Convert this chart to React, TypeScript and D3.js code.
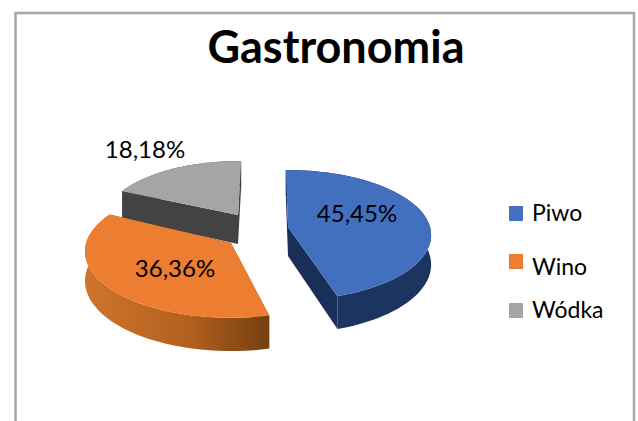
import React from "react";
import * as d3 from "d3";

const categories = ["Piwo", "Wino", "Wódka"];
const values = [5, 4, 2];
const labels = ["45,45%", "36,36%", "18,18%"];
const topColors = ["#4270bf", "#ed7d31", "#a5a5a5"];
const wallColors = ["#1c3460", "url(#orangeWall)", "#434343"];
const cutColors = ["#1a2f58", "#8a4a18", "#434343"];
const apexes: [number, number][] = [[288, 227], [231, 243], [238, 215]];
const radii = [1, 1.02, 0.94];
const startNudge = [-1, 3, 0];
const endNudge = [-1.5, 3, 1.5];
const labelPos: [number, number][] = [[357, 222], [175, 277], [145, 158]];
const legendY = [206, 254, 303];
const legendBase = [221, 275, 318];
const order = [2, 0, 1];

const RX = 142, RY = 64, K = 0.125, DEPTH = 29;
const FONT = "Lato, Carlito, sans-serif";
const rad = (deg: number) => (deg * Math.PI) / 180;

function project(apex: [number, number], a: number, r: number): [number, number] {
  const u = r * Math.sin(a), v = r * Math.cos(a);
  const w = 1 + K * v;
  return [apex[0] + (RX * u) / w, apex[1] - (RY * v) / w];
}
function depthAt(a: number, r: number) {
  return DEPTH / (1 + K * r * Math.cos(a));
}
const toPath = (pts: [number, number][]) => d3.line()(pts) + "Z";

export default function App() {
  const arcs = d3.pie<number>().sort(null)(values);
  return (
    <svg width={638} height={421} style={{ position: "absolute", left: 0, top: 0, background: "#fff" }}>
      <defs>
        <linearGradient id="orangeWall" gradientUnits="userSpaceOnUse" x1={86} x2={272} y1={0} y2={0}>
          <stop offset="0" stopColor="#d0742c" />
          <stop offset="0.55" stopColor="#b2601f" />
          <stop offset="1" stopColor="#733e11" />
        </linearGradient>
      </defs>
      <path d="M15.5,421V13H634V421" fill="none" stroke="#a6a6a6" strokeWidth={2.5} />
      <text x={336} y={63} textAnchor="middle" fontFamily={FONT} fontWeight={700} fontSize={45} fill="#000">Gastronomia</text>
      {order.map((i) => {
        const d = arcs[i];
        const apex = apexes[i];
        const a0 = d.startAngle + rad(startNudge[i]);
        const a1 = d.endAngle + rad(endNudge[i]);
        const r = radii[i];
        const angles = d3.range(0, 61).map((t) => a0 + ((a1 - a0) * t) / 60);
        const rim = angles.map((a) => project(apex, a, r));
        const down = (p: [number, number], a: number, q: number): [number, number] => [p[0], p[1] + depthAt(a, q)];
        const cut1: [number, number][] = [apex, rim[0], down(rim[0], angles[0], r), down(apex, 0, 0)];
        const cut2: [number, number][] = [apex, rim[60], down(rim[60], angles[60], r), down(apex, 0, 0)];
        const wall: [number, number][] = [...rim, ...rim.map((p, j) => down(p, angles[j], r)).reverse()];
        return (
          <g key={categories[i]}>
            <path d={toPath(cut1)} fill={cutColors[i]} />
            <path d={toPath(cut2)} fill={cutColors[i]} />
            <path d={toPath(wall)} fill={wallColors[i]} />
            <path d={toPath([apex, ...rim])} fill={topColors[i]} />
          </g>
        );
      })}
      {labels.map((t, i) => (
        <text key={t} x={labelPos[i][0]} y={labelPos[i][1]} textAnchor="middle" fontFamily={FONT} fontSize={24} fill="#000">{t}</text>
      ))}
      {categories.map((c, i) => (
        <g key={c}>
          <rect x={509} y={legendY[i]} width={14} height={15} fill={i === 2 ? "#a5a5a5" : topColors[i]} />
          <text x={532} y={legendBase[i]} fontFamily={FONT} fontSize={23} fill="#000">{c}</text>
        </g>
      ))}
    </svg>
  );
}
